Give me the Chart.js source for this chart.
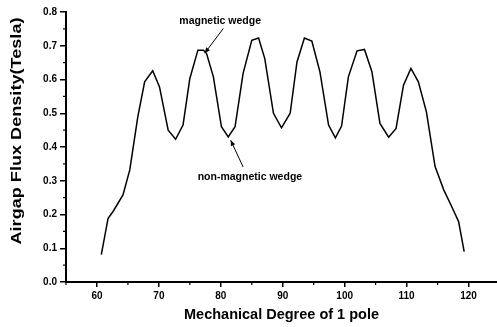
<!DOCTYPE html>
<html>
<head>
<meta charset="utf-8">
<script src="https://cdn.jsdelivr.net/npm/chart.js@4/dist/chart.umd.min.js"></script>
<style>
  html, body { margin: 0; padding: 0; background: #fff; }
  canvas { display: block; }
</style>
</head>
<body>
<canvas id="chart" width="497" height="327"></canvas>
<script>
// Airgap flux density
const degrees = [60.7, 61.8, 62.6, 64.2, 65.3, 66.6, 67.7, 69.0, 70.1, 71.5,
                 72.7, 73.9, 75.0, 76.3, 77.2, 77.7, 78.8, 80.1, 81.2, 82.3,
                 83.6, 85.0, 86.1, 87.1, 88.5, 89.8, 91.2, 92.3, 93.5, 94.7,
                 96.0, 97.4, 98.5, 99.5, 100.6, 102.0, 103.2, 104.4, 105.7, 107.1,
                 108.3, 109.5, 110.7, 111.9, 113.2, 114.6, 116.0, 117.3, 118.4, 119.3];
const flux = [0.081, 0.189, 0.209, 0.258, 0.332, 0.49, 0.593, 0.626, 0.578, 0.45,
              0.423, 0.465, 0.603, 0.687, 0.687, 0.677, 0.608, 0.46, 0.43, 0.46,
              0.618, 0.716, 0.723, 0.662, 0.5, 0.457, 0.5, 0.652, 0.723, 0.714,
              0.623, 0.465, 0.427, 0.462, 0.608, 0.685, 0.689, 0.623, 0.47, 0.429,
              0.455, 0.583, 0.633, 0.593, 0.504, 0.342, 0.273, 0.223, 0.179, 0.09];

const xMajorTicks = [60, 70, 80, 90, 100, 110, 120];
const xMinorTicks = [55, 65, 75, 85, 95, 105, 115];
const yMinorTicks = [0.05, 0.15, 0.25, 0.35, 0.45, 0.55, 0.65, 0.75];

const xTitle = "Mechanical Degree of 1 pole";
const yTitle = "Airgap Flux Density(Tesla)";

// annotation: [text, textX, textY, arrowFromX, arrowFromY, arrowToX, arrowToY] in data units
const notes = [
  ["magnetic wedge", 79.9, 0.772, 80.4, 0.751, 77.4, 0.678],
  ["non-magnetic wedge", 84.7, 0.311, 83.6, 0.341, 81.6, 0.42]
];

const FONT = "'Liberation Sans', Arial, sans-serif";

// minor ticks, rotated y title, wedge labels with arrows
const extras = {
  id: "extras",
  afterDraw(chart) {
    const ctx = chart.ctx;
    const xs = chart.scales.x, ys = chart.scales.y;
    const area = chart.chartArea;
    ctx.save();
    ctx.strokeStyle = "#000";
    ctx.fillStyle = "#000";
    ctx.lineWidth = 1.2;
    xMinorTicks.forEach(v => {
      const px = xs.getPixelForValue(v);
      ctx.beginPath();
      ctx.moveTo(px, area.bottom);
      ctx.lineTo(px, area.bottom + 3);
      ctx.stroke();
    });
    yMinorTicks.forEach(v => {
      const py = ys.getPixelForValue(v);
      ctx.beginPath();
      ctx.moveTo(area.left, py);
      ctx.lineTo(area.left - 3, py);
      ctx.stroke();
    });

    // y title, stretched along its length like the scan
    ctx.save();
    ctx.font = "bold 15px " + FONT;
    const w = ctx.measureText(yTitle).width;
    ctx.translate(17, (area.top + area.bottom) / 2 - 16);
    ctx.rotate(-Math.PI / 2);
    ctx.scale(227 / w, 1);
    ctx.textAlign = "center";
    ctx.textBaseline = "middle";
    ctx.fillText(yTitle, 0, 0);
    ctx.restore();

    ctx.font = "bold 10.5px " + FONT;
    ctx.textAlign = "center";
    ctx.textBaseline = "middle";
    notes.forEach(n => {
      ctx.fillText(n[0], xs.getPixelForValue(n[1]), ys.getPixelForValue(n[2]));
      const x1 = xs.getPixelForValue(n[3]), y1 = ys.getPixelForValue(n[4]);
      const x2 = xs.getPixelForValue(n[5]), y2 = ys.getPixelForValue(n[6]);
      ctx.lineWidth = 1;
      ctx.beginPath();
      ctx.moveTo(x1, y1);
      ctx.lineTo(x2, y2);
      ctx.stroke();
      const a = Math.atan2(y2 - y1, x2 - x1);
      ctx.beginPath();
      ctx.moveTo(x2, y2);
      ctx.lineTo(x2 - 6 * Math.cos(a - 0.4), y2 - 6 * Math.sin(a - 0.4));
      ctx.lineTo(x2 - 6 * Math.cos(a + 0.4), y2 - 6 * Math.sin(a + 0.4));
      ctx.closePath();
      ctx.fill();
    });
    ctx.restore();
  }
};

new Chart(document.getElementById("chart"), {
  type: "line",
  data: {
    labels: degrees,
    datasets: [{
      data: degrees.map((d, i) => ({ x: d, y: flux[i] })),
      borderColor: "#000",
      borderWidth: 1.5,
      pointRadius: 0,
      tension: 0,
      fill: false
    }]
  },
  options: {
    responsive: false,
    animation: false,
    layout: { padding: { top: 12, left: 0, right: 0, bottom: 0 } },
    plugins: { legend: { display: false }, tooltip: { enabled: false } },
    scales: {
      x: {
        type: "linear",
        min: 55,
        max: 124.6,
        afterBuildTicks: s => { s.ticks = xMajorTicks.map(v => ({ value: v })); },
        afterFit: s => { s.height = 45; },
        grid: { drawOnChartArea: false, drawTicks: true, tickLength: 5, color: "#000", lineWidth: 1.5 },
        border: { display: true, color: "#000", width: 2 },
        ticks: {
          color: "#000",
          padding: 3,
          maxRotation: 0,
          font: { family: FONT, size: 10, weight: "bold" }
        },
        title: {
          display: true,
          text: xTitle,
          color: "#000",
          font: { family: FONT, size: 14.5, weight: "bold" },
          padding: { top: 0, bottom: 3 }
        }
      },
      y: {
        min: 0,
        max: 0.8,
        afterFit: s => { s.width = 66; },
        grid: { drawOnChartArea: false, drawTicks: true, tickLength: 6, color: "#000", lineWidth: 1.5 },
        border: { display: true, color: "#000", width: 2 },
        ticks: {
          stepSize: 0.1,
          color: "#000",
          padding: 3,
          font: { family: FONT, size: 10, weight: "bold" },
          callback: v => v.toFixed(1)
        }
      }
    }
  },
  plugins: [extras]
});
</script>
</body>
</html>
